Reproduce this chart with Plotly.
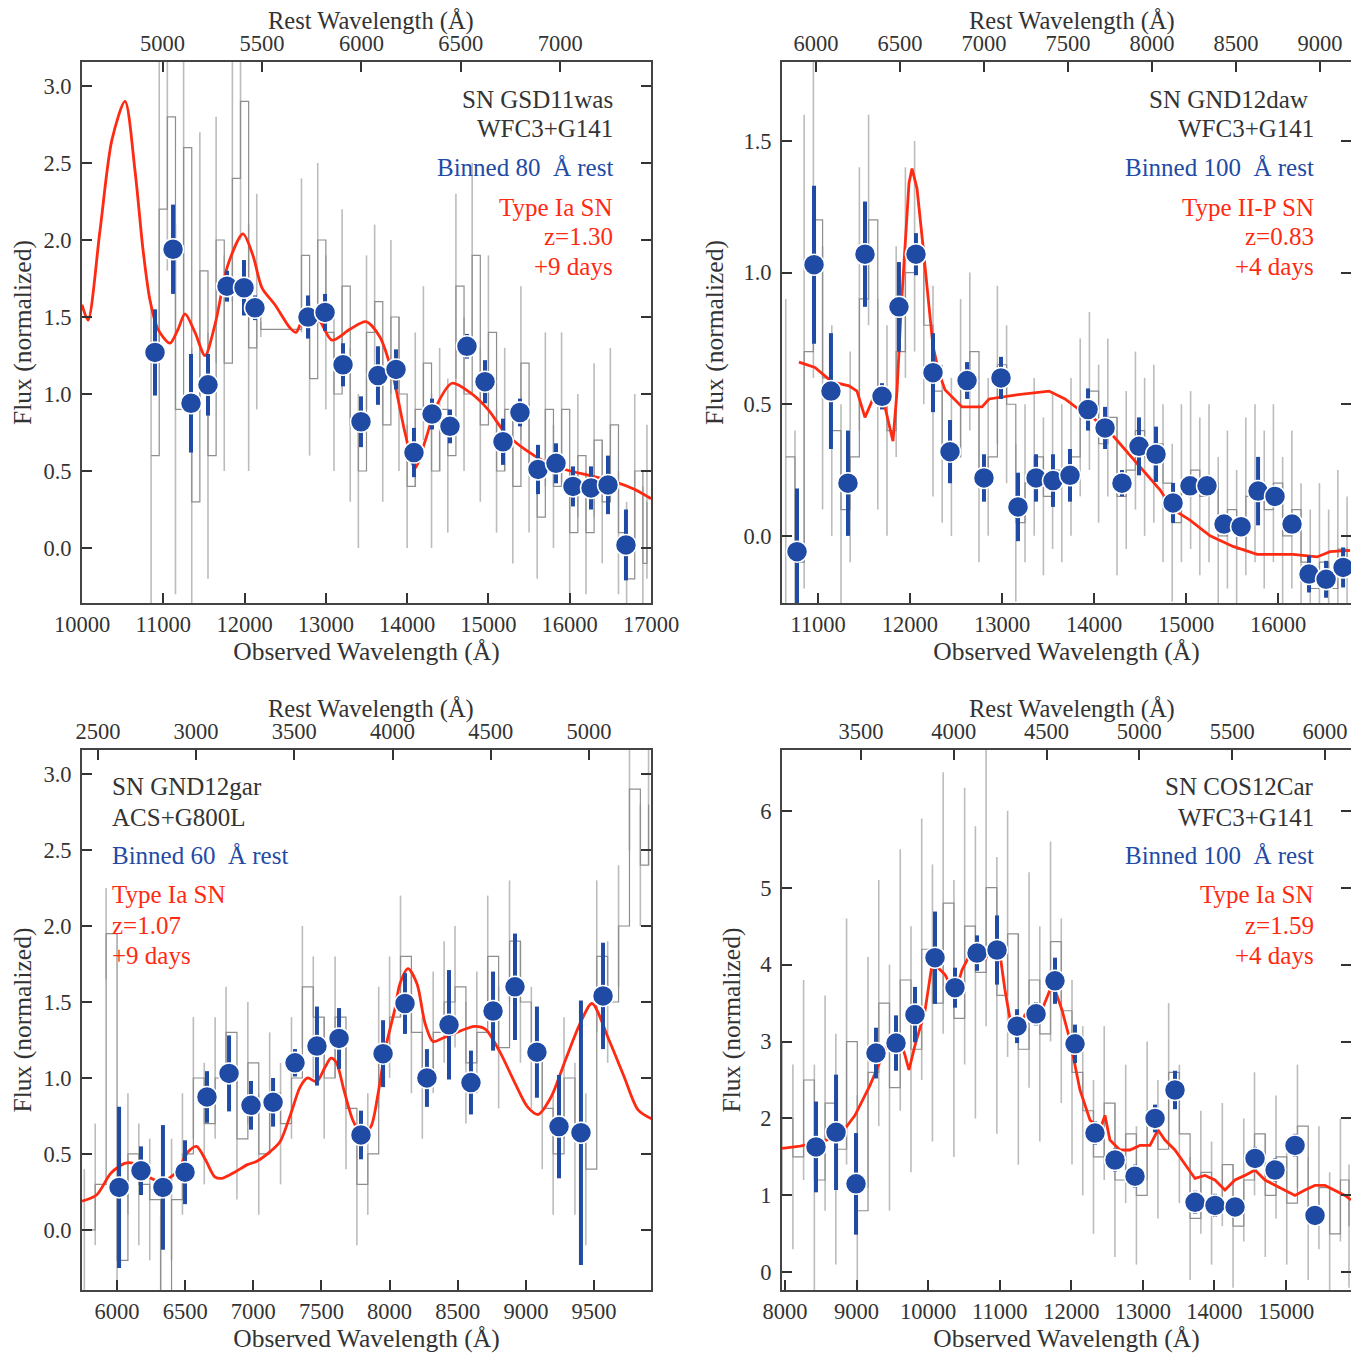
import plotly.graph_objects as go

# page body adds an 8px margin, so the figure is drawn at (8, 8)
OFF = 8
W, H = 1351, 1345
FONT = "Liberation Serif"
BLUE = "#1f4ba5"
RED = "#ff2a12"
TXT = "#333333"

# ---------------- Panel 1: SN GSD11was ----------------
p1_spec_x = [10850, 10950, 11050, 11150, 11250, 11350, 11450, 11550, 11650, 11750, 11850, 11950, 12050, 12150,
             12200, 12700, 12800, 12900, 13000, 13100, 13200, 13300, 13400, 13500, 13600, 13700, 13800, 13900,
             14000, 14100, 14200, 14300, 14400, 14500, 14600, 14700, 14800, 14900, 15000, 15100, 15200, 15300,
             15400, 15500, 15600, 15700, 15800, 15900, 16000, 16100, 16200, 16300, 16400, 16500, 16600, 16700,
             16800, 16900, 16950]
p1_spec_y = [0.6, 2.2, 2.8, 0.9, 2.6, 0.3, 1.8, 0.6, 2.0, 1.2, 2.4, 2.9, 1.3, 1.6,
             1.42, 1.9, 1.1, 2.0, 1.4, 1.0, 1.7, 0.8, 0.5, 1.4, 1.6, 0.8, 1.5, 1.0,
             0.4, 0.9, 1.2, 0.5, 0.9, 0.6, 1.7, 1.0, 1.9, 0.8, 1.4, 0.5, 0.9, 0.4,
             1.2, 0.5, 0.2, 0.9, 0.4, 0.9, 0.1, 0.6, 0.1, 0.7, 0.3, 0.8, 0.1, -0.2,
             0.5, -0.1, 0.3]
p1_spec_err = [1.0, 1.0, 1.0, 1.2, 1.1, 1.0, 0.9, 0.8, 0.8, 0.7, 0.8, 0.9, 0.8, 0.7,
               0.05, 0.5, 0.5, 0.5, 0.5, 0.5, 0.5, 0.5, 0.5, 0.5, 0.5, 0.5, 0.5, 0.5,
               0.4, 0.5, 0.5, 0.5, 0.4, 0.5, 0.6, 0.5, 0.6, 0.5, 0.5, 0.4, 0.4, 0.5,
               0.5, 0.4, 0.4, 0.5, 0.4, 0.5, 0.4, 0.4, 0.4, 0.5, 0.4, 0.5, 0.4, 0.5,
               0.5, 0.5, 0.5]
p1_bin_x = [10898, 11120, 11341, 11550, 11784, 11993, 12128, 12780, 12990, 13211, 13432, 13641, 13863,
            14084, 14306, 14527, 14736, 14958, 15179, 15388, 15610, 15831, 16040, 16262, 16471, 16692]
p1_bin_y = [1.27, 1.94, 0.94, 1.06, 1.70, 1.69, 1.56, 1.50, 1.53, 1.19, 0.82, 1.12, 1.16,
            0.62, 0.87, 0.79, 1.31, 1.08, 0.69, 0.88, 0.51, 0.55, 0.40, 0.39, 0.41, 0.02]
p1_bin_err = [0.28, 0.29, 0.32, 0.20, 0.10, 0.18, 0.08, 0.14, 0.12, 0.14, 0.165, 0.19, 0.13,
              0.16, 0.10, 0.11, 0.08, 0.14, 0.15, 0.09, 0.16, 0.13, 0.13, 0.14, 0.19, 0.23]
p1_model_x = [10000, 10074, 10221, 10368, 10529, 10652, 10750, 10836, 10935, 11082, 11181, 11267, 11390,
              11513, 11636, 11796, 11980, 12103, 12214, 12374, 12558, 12632, 12743, 12903, 13075, 13296,
              13493, 13665, 13825, 13973, 14096, 14219, 14367, 14551, 14772, 14994, 15203, 15449, 15695,
              15941, 16248, 16556, 16802, 17000]
p1_model_y = [1.58, 1.48, 2.06, 2.65, 2.90, 2.45, 1.94, 1.61, 1.42, 1.33, 1.42, 1.52, 1.40,
              1.25, 1.45, 1.84, 2.04, 1.90, 1.69, 1.58, 1.43, 1.40, 1.51, 1.49, 1.35, 1.42,
              1.47, 1.37, 1.12, 0.75, 0.52, 0.69, 0.93, 1.07, 1.01, 0.90, 0.75, 0.64, 0.56,
              0.51, 0.47, 0.43, 0.38, 0.32]

# ---------------- Panel 2: SN GND12daw ----------------
p2_spec_x = [10650, 10750, 10850, 10950, 11050, 11150, 11250, 11350, 11450, 11550, 11650, 11750, 11850,
             11950, 12050, 12150, 12250, 12350, 12450, 12550, 12650, 12750, 12850, 12950, 13050, 13150,
             13250, 13350, 13450, 13550, 13650, 13750, 13850, 13950, 14050, 14150, 14250, 14350, 14450,
             14550, 14650, 14750, 14850, 14950, 15050, 15150, 15250, 15350, 15450, 15550, 15650, 15750,
             15850, 15950, 16050, 16150, 16250, 16350, 16450, 16550, 16650, 16750]
p2_spec_y = [0.3, -0.1, 0.7, 1.2, 0.6, 0.4, 0.1, 0.3, 0.9, 1.2, 0.5, 0.4, 0.7,
             1.0, 1.1, 0.8, 0.55, 0.35, 0.3, 0.6, 0.7, 0.2, 0.3, 0.65, 0.5, 0.05,
             0.2, 0.3, 0.15, 0.25, 0.2, 0.3, 0.45, 0.55, 0.35, 0.45, 0.15, 0.25, 0.4,
             0.3, 0.35, 0.2, 0.05, 0.2, 0.25, 0.15, 0.2, 0.0, 0.1, -0.05, 0.15, 0.2,
             0.1, 0.2, 0.0, 0.1, -0.1, -0.2, -0.1, -0.2, -0.05, -0.15]
p2_spec_err = [0.6, 0.5, 0.9, 0.6, 0.5, 0.4, 0.4, 0.4, 0.5, 0.4, 0.4, 0.4, 0.4,
               0.4, 0.4, 0.3, 0.4, 0.3, 0.3, 0.3, 0.3, 0.3, 0.3, 0.3, 0.3, 0.3,
               0.3, 0.3, 0.3, 0.3, 0.3, 0.3, 0.3, 0.3, 0.3, 0.3, 0.3, 0.3, 0.3,
               0.3, 0.3, 0.3, 0.3, 0.3, 0.3, 0.3, 0.3, 0.3, 0.3, 0.3, 0.3, 0.3,
               0.3, 0.3, 0.3, 0.3, 0.3, 0.3, 0.3, 0.3, 0.3, 0.3]
p2_bin_x = [10772, 10957, 11141, 11326, 11511, 11696, 11880, 12065, 12250, 12435, 12620, 12804, 12989,
            13174, 13370, 13554, 13739, 13935, 14120, 14304, 14489, 14674, 14859, 15043, 15228, 15413,
            15598, 15783, 15967, 16152, 16337, 16522, 16707]
p2_bin_y = [-0.06, 1.03, 0.55, 0.20, 1.07, 0.53, 0.87, 1.07, 0.62, 0.32, 0.59, 0.22, 0.60,
            0.11, 0.22, 0.21, 0.23, 0.48, 0.41, 0.20, 0.34, 0.31, 0.125, 0.19, 0.19, 0.045,
            0.035, 0.17, 0.15, 0.045, -0.145, -0.165, -0.12]
p2_bin_err = [0.24, 0.30, 0.22, 0.20, 0.20, 0.05, 0.17, 0.08, 0.15, 0.12, 0.07, 0.09, 0.08,
              0.13, 0.09, 0.10, 0.10, 0.08, 0.08, 0.05, 0.11, 0.105, 0.076, 0.04, 0.04, 0.04,
              0.04, 0.13, 0.04, 0.04, 0.07, 0.07, 0.076]
p2_model_x = [10793, 10967, 11152, 11337, 11424, 11511, 11609, 11728, 11815, 11859, 11902, 11946, 11989,
              12022, 12076, 12130, 12185, 12250, 12315, 12380, 12565, 12783, 12859, 13141, 13511, 13685,
              13837, 13924, 14207, 14500, 14717, 14859, 15043, 15261, 15511, 15772, 16163, 16424, 16565,
              16783]
p2_model_y = [0.66, 0.64, 0.585, 0.57, 0.55, 0.45, 0.53, 0.49, 0.36, 0.55, 0.85, 1.10, 1.34,
              1.395, 1.32, 1.14, 0.94, 0.72, 0.62, 0.555, 0.49, 0.49, 0.52, 0.535, 0.55, 0.52,
              0.48, 0.47, 0.38, 0.26, 0.175, 0.10, 0.06, 0.0, -0.04, -0.07, -0.07, -0.08, -0.06,
              -0.055]

# ---------------- Panel 3: SN GND12gar ----------------
p3_spec_x = [5760, 5840, 5920, 6000, 6080, 6160, 6240, 6320, 6400, 6480, 6560, 6640, 6720, 6800,
             6880, 6960, 7040, 7120, 7200, 7280, 7360, 7440, 7520, 7600, 7680, 7760, 7840, 7920,
             8000, 8080, 8160, 8240, 8320, 8400, 8480, 8560, 8640, 8720, 8800, 8880, 8960, 9040,
             9120, 9200, 9280, 9360, 9440, 9520, 9600, 9680, 9760, 9840, 9900]
p3_spec_y = [0.0, 0.3, 1.95, -0.2, 0.5, 0.3, 0.2, -0.4, 0.2, 0.5, 1.0, 0.7, 1.0, 1.3,
             0.6, 1.1, 0.5, 0.9, 0.7, 1.0, 1.6, 1.4, 1.0, 1.4, 0.8, 0.3, 0.5, 1.2,
             1.4, 1.8, 1.3, 1.0, 1.3, 1.5, 1.6, 1.1, 1.3, 1.8, 1.2, 1.9, 1.5, 1.2,
             0.8, 0.5, 1.0, 0.6, 0.4, 1.8, 1.5, 2.0, 2.9, 2.4, 2.8]
p3_spec_err = [0.4, 0.4, 0.3, 0.5, 0.4, 0.4, 0.4, 0.5, 0.4, 0.4, 0.4, 0.4, 0.4, 0.3,
               0.4, 0.4, 0.4, 0.4, 0.4, 0.4, 0.4, 0.4, 0.4, 0.4, 0.4, 0.4, 0.4, 0.4,
               0.4, 0.4, 0.4, 0.4, 0.4, 0.4, 0.4, 0.4, 0.4, 0.4, 0.4, 0.4, 0.4, 0.4,
               0.4, 0.4, 0.4, 0.5, 0.5, 0.5, 0.4, 0.4, 0.4, 0.4, 0.4]
p3_bin_x = [6015, 6176, 6337, 6499, 6660, 6822, 6983, 7145, 7306, 7467, 7629, 7790, 7952,
            8113, 8274, 8436, 8597, 8759, 8920, 9081, 9243, 9404, 9566]
p3_bin_y = [0.28, 0.39, 0.28, 0.38, 0.875, 1.03, 0.82, 0.84, 1.10, 1.21, 1.26, 0.625, 1.16,
            1.49, 1.00, 1.35, 0.97, 1.44, 1.60, 1.17, 0.68, 0.64, 1.54]
p3_bin_err = [0.53, 0.16, 0.41, 0.21, 0.17, 0.25, 0.16, 0.16, 0.09, 0.26, 0.20, 0.16, 0.22,
              0.20, 0.19, 0.36, 0.21, 0.26, 0.35, 0.30, 0.34, 0.87, 0.35]
p3_model_x = [5743, 5850, 5956, 6063, 6143, 6250, 6330, 6437, 6517, 6583, 6650, 6717, 6770, 6863,
              6957, 7023, 7130, 7196, 7277, 7343, 7398, 7464, 7526, 7570, 7610, 7665, 7731, 7797,
              7863, 7916, 7971, 8038, 8076, 8135, 8201, 8260, 8318, 8384, 8491, 8624, 8704, 8810,
              8918, 9012, 9089, 9185, 9291, 9398, 9485, 9610, 9720, 9823, 9925]
p3_model_y = [0.19, 0.23, 0.375, 0.44, 0.43, 0.34, 0.32, 0.38, 0.51, 0.55, 0.46, 0.35, 0.34, 0.38,
              0.43, 0.45, 0.52, 0.58, 0.77, 0.94, 1.00, 0.975, 1.07, 1.13, 1.10, 0.92, 0.72, 0.625,
              0.68, 0.90, 1.20, 1.45, 1.62, 1.72, 1.62, 1.36, 1.24, 1.26, 1.30, 1.34, 1.32, 1.17,
              0.97, 0.81, 0.76, 0.875, 1.12, 1.36, 1.49, 1.25, 1.01, 0.79, 0.73]

# ---------------- Panel 4: SN COS12Car ----------------
p4_spec_x = [7960, 8110, 8260, 8410, 8560, 8710, 8860, 9010, 9160, 9310, 9460, 9610, 9760, 9910,
             10060, 10210, 10360, 10510, 10660, 10810, 10960, 11110, 11260, 11410, 11560, 11710, 11860,
             12010, 12160, 12310, 12460, 12610, 12760, 12910, 13060, 13210, 13360, 13510, 13660, 13810,
             13960, 14110, 14260, 14410, 14560, 14710, 14860, 15010, 15160, 15310, 15460, 15610, 15760,
             15880]
p4_spec_y = [2.0, 1.5, 2.5, 1.2, 2.2, 1.6, 3.0, 0.8, 2.6, 3.5, 2.4, 3.8, 2.9, 4.2,
             3.5, 4.8, 3.3, 4.5, 3.9, 5.0, 3.6, 4.4, 2.9, 3.8, 3.1, 4.3, 3.4,
             2.6, 2.1, 1.5, 2.2, 1.2, 1.8, 1.0, 2.1, 1.6, 2.6, 1.8, 0.7, 1.3,
             0.9, 1.4, 0.6, 1.2, 1.8, 1.0, 1.5, 0.9, 1.9, 0.7, 1.1, 0.5, 1.2,
             0.6]
p4_spec_err = [1.0, 1.2, 1.3, 1.5, 1.4, 1.5, 1.6, 1.5, 1.5, 1.6, 1.6, 1.7, 1.6, 1.7,
               1.8, 1.7, 1.8, 1.8, 1.9, 1.8, 1.8, 1.6, 1.5, 1.4, 1.4, 1.3, 1.2,
               1.2, 1.1, 1.0, 1.0, 1.0, 0.9, 0.9, 0.9, 0.9, 0.9, 0.9, 0.8, 0.8,
               0.8, 0.8, 0.8, 0.8, 0.8, 0.8, 0.8, 0.8, 0.8, 0.8, 0.8, 0.8, 0.8,
               0.8]
p4_bin_x = [8433, 8713, 8992, 9271, 9551, 9816, 10096, 10375, 10683, 10962, 11242, 11507, 11772,
            12052, 12331, 12611, 12890, 13170, 13449, 13729, 14008, 14288, 14567, 14847, 15126, 15405]
p4_bin_y = [1.63, 1.82, 1.15, 2.85, 2.98, 3.35, 4.09, 3.70, 4.15, 4.19, 3.20, 3.36, 3.79,
            2.97, 1.81, 1.46, 1.25, 2.00, 2.37, 0.91, 0.87, 0.85, 1.48, 1.33, 1.65, 0.74]
p4_bin_err = [0.59, 0.75, 0.66, 0.33, 0.36, 0.36, 0.60, 0.26, 0.23, 0.45, 0.22, 0.15, 0.30,
              0.25, 0.15, 0.15, 0.15, 0.18, 0.25, 0.15, 0.15, 0.12, 0.15, 0.15, 0.15, 0.12]
p4_model_x = [7958, 8210, 8489, 8768, 8978, 9187, 9397, 9509, 9607, 9677, 9732, 9816, 9956, 10054,
              10137, 10235, 10375, 10473, 10584, 10696, 10794, 10864, 10976, 11073, 11171, 11241,
              11353, 11493, 11590, 11702, 11772, 11870, 11981, 12121, 12261, 12400, 12470, 12540,
              12680, 12820, 12959, 13099, 13211, 13309, 13448, 13588, 13728, 13867, 14007, 14147,
              14287, 14426, 14566, 14706, 14846, 14985, 15125, 15265, 15404, 15544, 15684, 15824, 15908]
p4_model_y = [1.61, 1.64, 1.69, 1.78, 2.04, 2.43, 2.89, 3.08, 3.02, 2.82, 2.63, 2.95, 3.40, 4.00,
              3.96, 3.87, 3.62, 3.93, 4.13, 4.26, 4.06, 4.19, 4.32, 3.67, 3.15, 3.05,
              3.35, 3.35, 3.41, 3.67, 3.67, 3.41, 3.02, 2.37, 1.98, 1.85, 2.04, 1.72,
              1.59, 1.59, 1.65, 1.65, 1.85, 1.72, 1.59, 1.40, 1.22, 1.26, 1.20, 1.07,
              1.20, 1.26, 1.33, 1.20, 1.13, 1.07, 1.00, 1.07, 1.13, 1.13, 1.07, 1.00, 0.94]

# ---------------- panel settings ----------------
panels = [
    dict(spec=(p1_spec_x, p1_spec_y, p1_spec_err), binned=(p1_bin_x, p1_bin_y, p1_bin_err),
         model=(p1_model_x, p1_model_y), model_shape="spline",
         xrange=[10000, 17000], xticks=[10000, 11000, 12000, 13000, 14000, 15000, 16000, 17000],
         trange=[4595, 7456], tticks=[5000, 5500, 6000, 6500, 7000],
         yrange=[-0.357, 3.156], yticks=[0.0, 0.5, 1.0, 1.5, 2.0, 2.5, 3.0], yfmt=".1f",
         box=(82, 651, 62, 603),
         labels=["SN GSD11was", "WFC3+G141", "Binned 80  Å rest", "Type Ia SN", "z=1.30", "+9 days"],
         label_x=615, label_anchor="right", label_y0=99),
    dict(spec=(p2_spec_x, p2_spec_y, p2_spec_err), binned=(p2_bin_x, p2_bin_y, p2_bin_err),
         model=(p2_model_x, p2_model_y), model_shape="linear",
         xrange=[10609, 16793], xticks=[11000, 12000, 13000, 14000, 15000, 16000],
         trange=[5797, 9185], tticks=[6000, 6500, 7000, 7500, 8000, 8500, 9000],
         yrange=[-0.255, 1.80], yticks=[0.0, 0.5, 1.0, 1.5], yfmt=".1f",
         box=(782, 1351, 62, 603),
         labels=["SN GND12daw ", "WFC3+G141", "Binned 100  Å rest", "Type II-P SN", "z=0.83", "+4 days"],
         label_x=1316, label_anchor="right", label_y0=99),
    dict(spec=(p3_spec_x, p3_spec_y, p3_spec_err), binned=(p3_bin_x, p3_bin_y, p3_bin_err),
         model=(p3_model_x, p3_model_y), model_shape="spline",
         xrange=[5743, 9918], xticks=[6000, 6500, 7000, 7500, 8000, 8500, 9000, 9500],
         trange=[2419, 5316], tticks=[2500, 3000, 3500, 4000, 4500, 5000],
         yrange=[-0.395, 3.158], yticks=[0.0, 0.5, 1.0, 1.5, 2.0, 2.5, 3.0], yfmt=".1f",
         box=(82, 651, 750, 1290),
         labels=["SN GND12gar", "ACS+G800L", "Binned 60  Å rest", "Type Ia SN", "z=1.07", "+9 days"],
         label_x=110, label_anchor="left", label_y0=787),
    dict(spec=(p4_spec_x, p4_spec_y, p4_spec_err), binned=(p4_bin_x, p4_bin_y, p4_bin_err),
         model=(p4_model_x, p4_model_y), model_shape="linear",
         xrange=[7958, 15908], xticks=[8000, 9000, 10000, 11000, 12000, 13000, 14000, 15000],
         trange=[3075, 6140], tticks=[3500, 4000, 4500, 5000, 5500, 6000],
         yrange=[-0.23, 6.79], yticks=[0, 1, 2, 3, 4, 5, 6], yfmt="d",
         box=(782, 1351, 750, 1290),
         labels=["SN COS12Car", "WFC3+G141", "Binned 100  Å rest", "Type Ia SN", "z=1.59", "+4 days"],
         label_x=1316, label_anchor="right", label_y0=787),
]


def px_x(px):
    return (px - OFF) / W


def px_y(py):
    return 1 - (py - OFF) / H


fig = go.Figure()
layout = dict(width=W, height=H, margin=dict(l=0, r=0, t=0, b=0, autoexpand=False),
              paper_bgcolor="white", plot_bgcolor="white", showlegend=False,
              font=dict(family=FONT, color=TXT, size=20))
annotations = []

axis_common = dict(showgrid=False, zeroline=False, showline=True, linecolor="#444444", linewidth=2,
                   ticks="inside", ticklen=10, tickwidth=2, tickcolor="#333333", automargin=False,
                   tickfont=dict(family=FONT, size=22.5, color=TXT))
TITLE_FONT = dict(family=FONT, size=25.5, color=TXT)

for i, p in enumerate(panels):
    xb = f"x{2*i+1}" if i > 0 else "x"
    xt = f"x{2*i+2}"
    yy = f"y{i+1}" if i > 0 else "y"
    xb_key = "xaxis" if i == 0 else f"xaxis{2*i+1}"
    xt_key = f"xaxis{2*i+2}"
    y_key = "yaxis" if i == 0 else f"yaxis{i+1}"
    l, r, t, b = p["box"]
    xdom = [px_x(l), px_x(r)]
    ydom = [px_y(b), px_y(t)]

    sx, sy, se = p["spec"]
    fig.add_trace(go.Scatter(x=sx, y=sy, mode="lines", line=dict(color="#8e8e8e", width=1.2, shape="hv"),
                             error_y=dict(type="data", array=se, color="#bcbcbc", thickness=1.6, width=0),
                             xaxis=xb, yaxis=yy, hoverinfo="skip"))
    mx, my = p["model"]
    fig.add_trace(go.Scatter(x=mx, y=my, mode="lines",
                             line=dict(color=RED, width=2.8, shape=p["model_shape"], smoothing=0.8),
                             xaxis=xb, yaxis=yy))
    bx, by, be = p["binned"]
    fig.add_trace(go.Scatter(x=bx, y=by, mode="markers",
                             marker=dict(color=BLUE, size=21, line=dict(color="white", width=1.5)),
                             error_y=dict(type="data", array=be, color=BLUE, thickness=4, width=0),
                             xaxis=xb, yaxis=yy))
    # invisible trace so that the rest-wavelength (top) axis is drawn
    fig.add_trace(go.Scatter(x=p["trange"], y=p["yrange"], mode="markers",
                             marker=dict(size=1, opacity=0), xaxis=xt, yaxis=yy, hoverinfo="skip"))

    layout[xb_key] = dict(axis_common, domain=xdom, anchor=yy, range=p["xrange"], tickvals=p["xticks"],
                          tickformat="d", mirror=True,
                          title=dict(text="Observed Wavelength (Å)", font=TITLE_FONT, standoff=6))
    layout[xt_key] = dict(axis_common, overlaying=xb, side="top", anchor=yy, range=p["trange"],
                          tickvals=p["tticks"], tickformat="d")
    layout[y_key] = dict(axis_common, domain=ydom, anchor=xb, range=p["yrange"], tickvals=p["yticks"],
                         tickformat=p["yfmt"], mirror="ticks", ticklabelstandoff=4,
                         title=dict(text="Flux (normalized)", font=TITLE_FONT, standoff=12))

    # top-axis title placed as text just above the rest-wavelength tick labels
    annotations.append(dict(text="Rest Wavelength (Å)", x=px_x((l + r) / 2 + 5), y=px_y(t - 41),
                            xref="paper", yref="paper", xanchor="center", yanchor="middle",
                            showarrow=False, font=dict(family=FONT, size=24.5, color=TXT)))

    colors = [TXT, TXT, BLUE, RED, RED, RED]
    offsets = [0, 30, 68, 108, 138, 168]
    for txt, c, off in zip(p["labels"], colors, offsets):
        annotations.append(dict(text=txt, x=px_x(p["label_x"]), y=px_y(p["label_y0"] + off),
                                xref="paper", yref="paper", xanchor=p["label_anchor"], yanchor="middle",
                                showarrow=False, font=dict(family=FONT, size=25, color=c)))

layout["annotations"] = annotations
fig.update_layout(**layout)
fig.write_html("out.html")
